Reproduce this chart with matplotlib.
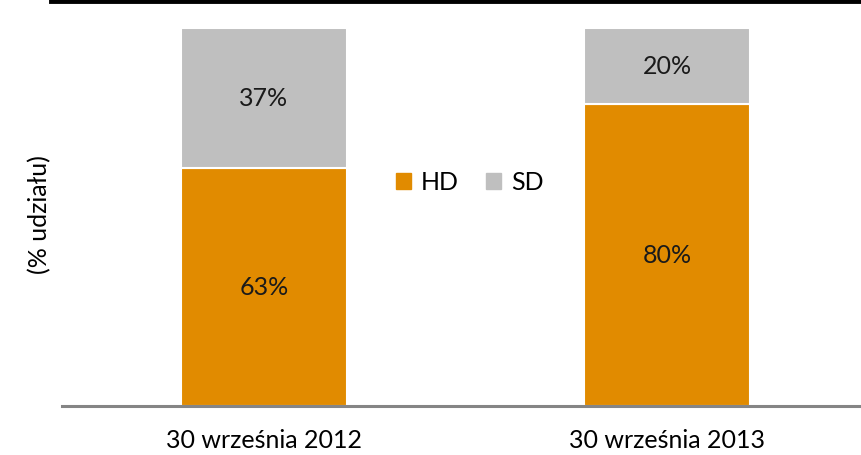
import matplotlib.pyplot as plt
from matplotlib.lines import Line2D
from matplotlib.patches import Patch

plt.rcParams['font.family'] = ['Lato', 'DejaVu Sans']

dates = ['30 września 2012', '30 września 2013']
hd = [63, 80]
sd = [37, 20]

orange = '#E18B00'
grey = '#BFBFBF'
fs = 18

fig = plt.figure(figsize=(8.61, 4.56), dpi=100)
ax = fig.add_axes([62 / 861, 1 - 407 / 456, 1 - 62 / 861, 378 / 456])

x = [0, 1]
w = 0.412
ax.bar(x, hd, width=w, color=orange, edgecolor='white', linewidth=1.5)
ax.bar(x, sd, bottom=hd, width=w, color=grey, edgecolor='white', linewidth=1.5)

for xi, h, s in zip(x, hd, sd):
    ax.text(xi, h / 2, f'{h}%', ha='center', va='center', fontsize=fs, color='#1a1a1a')
    ax.text(xi, h + s / 2, f'{s}%', ha='center', va='center', fontsize=fs, color='#1a1a1a')

ax.set_xlim(-0.501, 1.481)
ax.set_ylim(0, 100)
ax.set_xticks(x)
ax.set_xticklabels(dates, fontsize=fs)
ax.tick_params(axis='x', length=0, pad=16)
ax.set_yticks([])
for side in ['top', 'right', 'left']:
    ax.spines[side].set_visible(False)
ax.spines['bottom'].set_color('#858585')
ax.spines['bottom'].set_linewidth(2.2)

fig.text(40 / 861, 1 - 215 / 456, '(% udziału)', rotation=90, ha='center', va='center', fontsize=fs)

# thick header rule
fig.add_artist(Line2D([51 / 861, 1], [1 - 2 / 456, 1 - 2 / 456], color='black', linewidth=3.5,
                      transform=fig.transFigure))

handles = [Patch(color=orange, label='HD'), Patch(color=grey, label='SD')]
fig.legend(handles=handles, loc='center', bbox_to_anchor=(470 / 861, 1 - 183 / 456), ncol=2,
           frameon=False, fontsize=fs, handlelength=0.6, handleheight=0.6,
           handletextpad=0.4, columnspacing=1.1)

fig.savefig('out.png', dpi=100)
